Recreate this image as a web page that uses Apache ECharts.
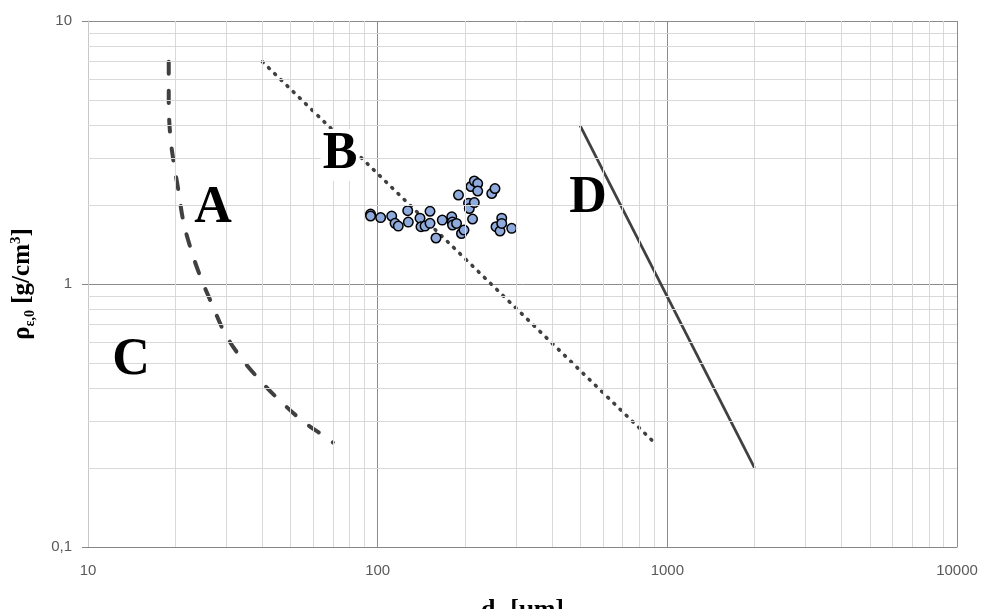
<!DOCTYPE html>
<html>
<head>
<meta charset="utf-8">
<script src="https://cdn.jsdelivr.net/npm/echarts@6/dist/echarts.min.js"></script>
<style>
html,body{margin:0;padding:0;background:#fff;}
#chart{width:981px;height:609px;}
</style>
</head>
<body>
<div id="chart"></div>
<script>
// ---- data ----
var xTickLabels = ['10', '100', '1000', '10000'];
var yTickLabels = ['0,1', '1', '10'];

var scatterX = [94.5, 94.5, 102.4, 111.8, 114.8, 117.8, 127.0, 127.6, 140.0, 141.1, 145.7, 151.6, 151.6, 159.0, 167.1,
  180.2, 181.0, 181.3, 187.2, 190.1, 194.7, 198.6, 205.9, 207.2, 210.0, 215.6, 221.5, 221.5, 215.6, 212.6,
  247.6, 254.1, 256.2, 264.5, 268.1, 268.1, 290.2];
var scatterY = [1.845, 1.813, 1.789, 1.813, 1.701, 1.66, 1.90, 1.72, 1.78, 1.651, 1.66, 1.701, 1.89, 1.496, 1.75,
  1.80, 1.72, 1.676, 1.70, 2.179, 1.556, 1.604, 2.03, 1.936, 2.348, 2.464, 2.41, 2.257, 2.04, 1.766,
  2.208, 2.307, 1.651, 1.59, 1.78, 1.70, 1.628];

var curveAX = [19, 19, 19.2, 19.7, 20.5, 21.3, 22.5, 24.4, 26.7, 29.7, 33.5, 39.3, 46, 55.4, 66.7, 70];
var curveAY = [7, 5, 3.75, 2.96, 2.28, 1.75, 1.39, 1.07, 0.845, 0.65, 0.53, 0.43, 0.36, 0.30, 0.26, 0.25];

var lineBX = [40, 900];
var lineBY = [7, 0.25];

var lineDX = [500, 2000];
var lineDY = [4, 0.2];

var regionLabels = ['A', 'B', 'C', 'D'];

// ---- helpers ----
function pairs(xs, ys) { return xs.map(function (x, i) { return [x, ys[i]]; }); }
var minorX = [], minorY = [];
[10, 100, 1000].forEach(function (d) { for (var k = 2; k <= 9; k++) minorX.push(k * d); });
[0.1, 1].forEach(function (d) { for (var k = 2; k <= 9; k++) minorY.push(+(k * d).toFixed(2)); });
var minorLines = minorX.map(function (v) { return { xAxis: v }; })
  .concat(minorY.map(function (v) { return { yAxis: v }; }));

var chart = echarts.init(document.getElementById('chart'), null, { renderer: 'canvas' });
var serif = '"Liberation Serif", "DejaVu Serif", serif';
var sans = '"Liberation Sans", Arial, sans-serif';
var lineColor = '#404040';

function regionText(label, x, y, boxed) {
  var style = {
    text: label, font: 'bold 52px ' + serif, fill: '#000',
    textAlign: 'center', textVerticalAlign: 'middle'
  };
  if (boxed) { style.backgroundColor = '#ffffff'; style.padding = [0, 2, 0, 2]; }
  return { type: 'text', x: x, y: y, z: 10, style: style };
}

var option = {
  backgroundColor: '#ffffff',
  animation: false,
  grid: { left: 88, right: 24, top: 21, bottom: 62, containLabel: false, outerBoundsMode: 'none' },
  xAxis: {
    type: 'log', logBase: 10, min: 10, max: 10000,
    name: '{a|d}{b|p}{a| [μm]}',
    nameLocation: 'middle', nameGap: 48,
    nameTextStyle: {
      rich: {
        a: { fontFamily: serif, fontWeight: 'bold', fontSize: 26, color: '#000' },
        b: { fontFamily: serif, fontWeight: 'bold', fontSize: 15, color: '#000', verticalAlign: 'bottom', padding: [15, 0, 0, 0] }
      }
    },
    axisLine: { show: true, lineStyle: { color: '#868686', width: 1 } },
    axisTick: { show: false },
    axisLabel: {
      margin: 16, color: '#595959', fontFamily: sans, fontSize: 15,
      formatter: function (v) {
        var i = Math.round(Math.log10(v)) - 1;
        return xTickLabels[i] !== undefined ? xTickLabels[i] : '';
      }
    },
    splitLine: { show: true, lineStyle: { color: '#8c8c8c', width: 1 } }
  },
  yAxis: {
    type: 'log', logBase: 10, min: 0.1, max: 10,
    name: '{a|ρ}{b|ε,0}{a| [g/cm}{c|3}{a|]}',
    nameLocation: 'middle', nameGap: 51, nameRotate: 90,
    nameTextStyle: {
      rich: {
        a: { fontFamily: serif, fontWeight: 'bold', fontSize: 25, color: '#000' },
        b: { fontFamily: serif, fontWeight: 'bold', fontSize: 14, color: '#000', verticalAlign: 'bottom', padding: [14, 0, 0, 0] },
        c: { fontFamily: serif, fontWeight: 'bold', fontSize: 15, color: '#000', verticalAlign: 'top', padding: [0, 0, 11, 0] }
      }
    },
    axisLine: { show: true, lineStyle: { color: '#c8c8c8', width: 1 } },
    axisTick: { show: true, length: 6, inside: false, lineStyle: { color: '#868686' } },
    axisLabel: {
      margin: 16, color: '#595959', fontFamily: sans, fontSize: 15,
      formatter: function (v) {
        var i = Math.round(Math.log10(v)) + 1;
        return yTickLabels[i] !== undefined ? yTickLabels[i] : '';
      }
    },
    splitLine: { show: true, lineStyle: { color: '#8c8c8c', width: 1 } }
  },
  series: [
    {
      type: 'line', data: [], silent: true, z: 0,
      markLine: {
        silent: true, symbol: ['none', 'none'], label: { show: false },
        lineStyle: { color: '#d9d9d9', width: 1, type: 'solid' },
        emphasis: { disabled: true },
        animation: false,
        data: minorLines
      }
    },
    {
      name: 'A', type: 'line', data: pairs(curveAX, curveAY), smooth: 0.4, showSymbol: false, symbol: 'none', z: 3,
      lineStyle: { color: lineColor, width: 4, type: [12, 17], cap: 'round' }
    },
    {
      name: 'B', type: 'line', data: pairs(lineBX, lineBY), showSymbol: false, symbol: 'none', z: 3,
      lineStyle: { color: lineColor, width: 3.6, type: [1, 7.6], cap: 'round' }
    },
    {
      name: 'D', type: 'line', data: pairs(lineDX, lineDY), showSymbol: false, symbol: 'none', z: 3,
      lineStyle: { color: lineColor, width: 2.75, type: 'solid' }
    },
    {
      name: 'points', type: 'scatter', data: pairs(scatterX, scatterY), symbol: 'circle', symbolSize: 9.5, z: 4,
      itemStyle: { color: '#8FAADC', borderColor: '#000', borderWidth: 1.5, opacity: 1 }
    }
  ],
  graphic: [
    regionText(regionLabels[0], 213, 209, false),
    regionText(regionLabels[1], 340, 155, true),
    regionText(regionLabels[2], 131, 361, false),
    regionText(regionLabels[3], 588, 199, false)
  ]
};
chart.setOption(option);
</script>
</body>
</html>
